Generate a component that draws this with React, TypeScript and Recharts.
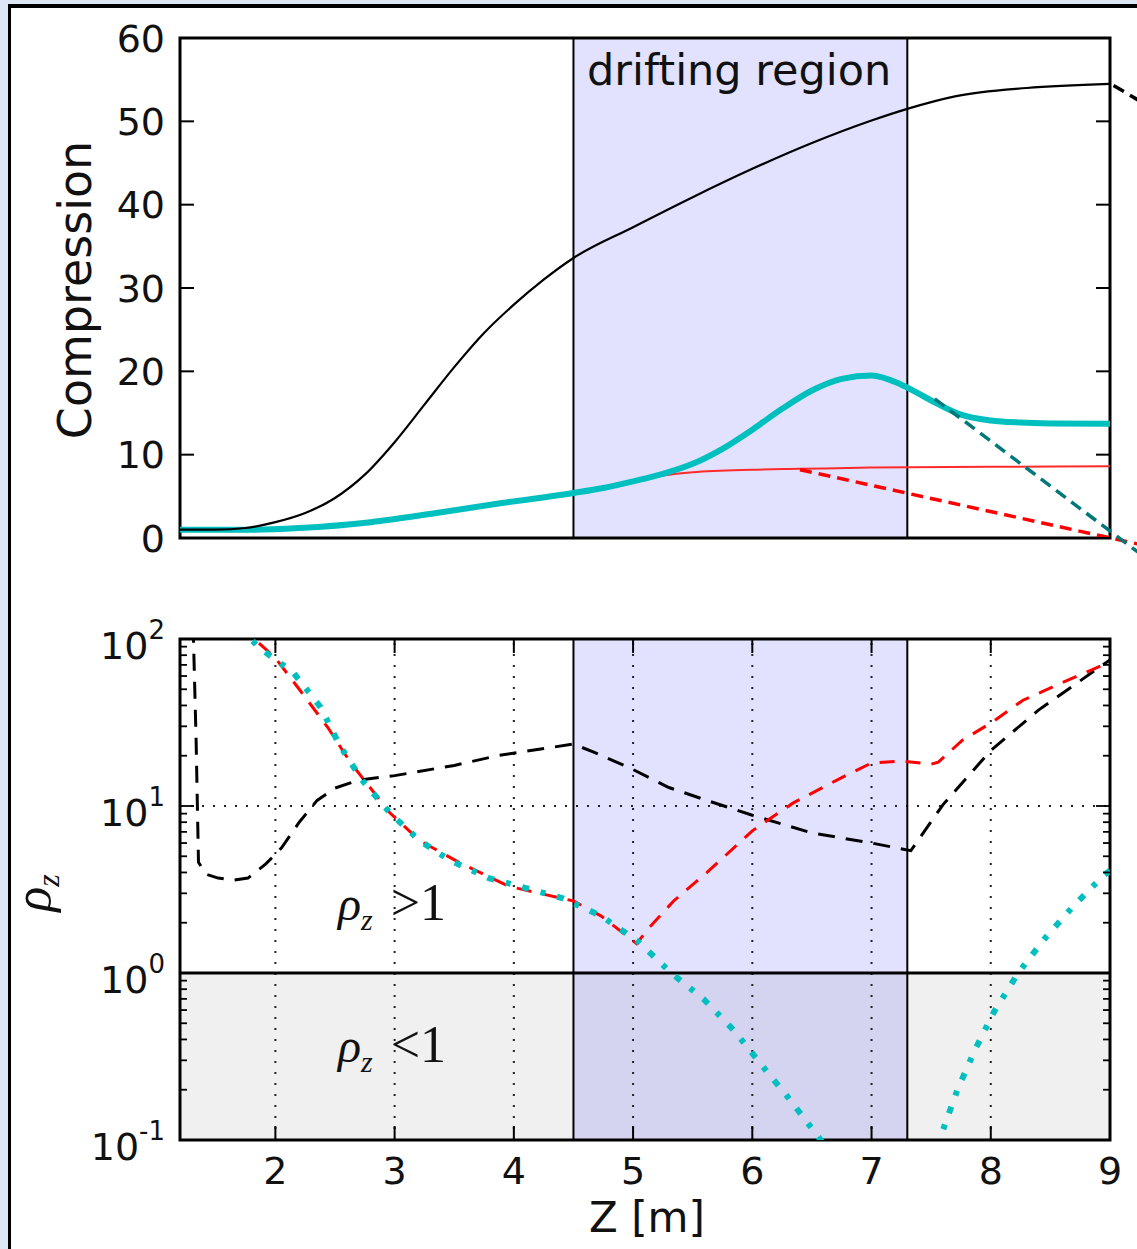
import React from 'react';
import { LineChart, Line, XAxis, YAxis, ReferenceArea, ReferenceLine } from 'recharts';

// top panel: compression along the line
const totalZ = [1.2, 1.5, 1.75, 2.0, 2.25, 2.5, 2.75, 3.0, 3.25, 3.5, 3.75, 4.0, 4.25, 4.5, 5.0, 5.5, 6.0, 6.5, 7.0, 7.3, 7.7, 8.3, 9.0];
const totalC = [1.0, 1.0, 1.2, 1.9, 3.0, 4.8, 7.6, 11.5, 16.0, 20.5, 24.6, 28.0, 31.0, 33.6, 37.3, 40.9, 44.3, 47.4, 50.1, 51.5, 53.0, 54.0, 54.5];

const cyanZ = [1.2, 1.8, 2.2, 2.8, 3.35, 3.9, 4.5, 4.75, 5.0, 5.25, 5.5, 5.75, 6.0, 6.25, 6.5, 6.75, 7.0, 7.25, 7.5, 7.75, 8.0, 8.25, 8.5, 9.0];
const cyanC = [1.0, 1.0, 1.2, 1.9, 3.0, 4.2, 5.4, 6.0, 6.8, 7.7, 8.9, 10.7, 13.0, 15.5, 17.7, 19.1, 19.5, 18.4, 16.5, 14.8, 14.1, 13.85, 13.75, 13.7];

const redZ = [1.2, 1.8, 2.8, 3.9, 4.5, 5.0, 5.25, 5.5, 6.0, 6.4, 7.0, 8.0, 9.0];
const redC = [1.0, 1.0, 1.9, 4.2, 5.4, 6.8, 7.5, 7.9, 8.2, 8.3, 8.45, 8.55, 8.6];

// bottom panel: rho_z (log)
const rhoBlackZ = [1.31, 1.335, 1.355, 1.42, 1.52, 1.65, 1.77, 1.92, 2.05, 2.2, 2.35, 2.5, 2.7, 3.0, 3.5, 3.86, 4.5, 4.67, 4.98, 5.3, 5.62, 6.0, 6.5, 7.0, 7.33, 7.6, 8.0, 8.4, 9.0];
const rhoBlack = [120, 25, 4.6, 3.9, 3.7, 3.6, 3.7, 4.5, 5.6, 8.0, 10.8, 12.8, 14.3, 15.2, 17.5, 20, 23.5, 21, 16.8, 12.9, 10.8, 8.8, 6.9, 6.0, 5.4, 10.2, 21.5, 37.5, 75];

const rhoRedZ = [1.7, 2.0, 2.2, 2.44, 2.63, 2.96, 3.21, 3.54, 3.96, 4.5, 4.73, 5.03, 5.13, 5.34, 5.62, 6.0, 6.34, 6.75, 7.0, 7.25, 7.5, 7.56, 7.76, 8.01, 8.27, 8.58, 9.0];
const rhoRed = [120, 77, 50, 29.5, 18.2, 9.1, 6.2, 4.6, 3.3, 2.7, 2.2, 1.5, 1.85, 2.7, 4.0, 7.1, 10.4, 14.8, 18.1, 18.6, 17.8, 18.3, 24.7, 31.7, 43, 54, 73];

const rhoCyanZ = [1.7, 1.86, 2.15, 2.38, 2.54, 2.73, 2.96, 3.21, 3.47, 3.79, 4.12, 4.41, 4.73, 5.04, 5.32, 5.59, 5.85, 6.08, 6.3, 6.53, 6.62, 7.0, 7.56, 7.59, 7.72, 7.87, 8.03, 8.23, 8.45, 8.69, 8.94, 9.0];
const rhoCyan = [118, 89, 63, 39, 23, 14.2, 9.1, 6.2, 4.7, 3.7, 3.2, 2.8, 2.2, 1.55, 1.0, 0.7, 0.45, 0.28, 0.18, 0.11, 0.09, null, 0.09, 0.11, 0.2, 0.35, 0.59, 1.0, 1.6, 2.5, 3.8, 4.1];

const compTicks = [0, 10, 20, 30, 40, 50, 60];
const zTicks = [2, 3, 4, 5, 6, 7, 8, 9];
const gridZ = [2, 3, 4, 5, 6, 7, 8];
const decades = [0.1, 1, 10, 100];
const logTicks = [
  0.1, 0.2, 0.3, 0.4, 0.5, 0.6, 0.7, 0.8, 0.9,
  1, 2, 3, 4, 5, 6, 7, 8, 9,
  10, 20, 30, 40, 50, 60, 70, 80, 90, 100,
];
const drift = [4.5, 7.3];

const toRows = (xs: number[], ys: (number | null)[]) => xs.map((x, i) => ({ x, y: ys[i] }));

const topTotal = toRows(totalZ, totalC);
const topCyan = toRows(cyanZ, cyanC);
const topRed = toRows(redZ, redC);
const botBlack = toRows(rhoBlackZ, rhoBlack);
const botRed = toRows(rhoRedZ, rhoRed);
const botCyan = toRows(rhoCyanZ, rhoCyan);

const PLOT_W = 930;
const BOT_PLOT_H = 501;
const Y_GAP = 13;
const X_GAP = 10;
const MAJOR = 14;
const MINOR = 7;
const SANS = 'DejaVu Sans';
const SERIF = 'Liberation Serif';

function CompTick(props: any) {
  const { x, y, payload } = props;
  const left = x + Y_GAP;
  const right = left + PLOT_W;
  return (
    <g>
      <line x1={left} x2={left + MAJOR} y1={y} y2={y} stroke="#000" strokeWidth={2} />
      <line x1={right} x2={right - MAJOR} y1={y} y2={y} stroke="#000" strokeWidth={2} />
      <text x={x - 2} y={y} dy="0.36em" textAnchor="end" fontSize={38} fontFamily={SANS} fill="#111">
        {payload.value}
      </text>
    </g>
  );
}

function LogTick(props: any) {
  const { x, y, payload } = props;
  const v = payload.value;
  const major = decades.includes(v);
  const len = major ? MAJOR : MINOR;
  const left = x + Y_GAP;
  const right = left + PLOT_W;
  return (
    <g>
      <line x1={left} x2={left + len} y1={y} y2={y} stroke="#000" strokeWidth={1.8} />
      <line x1={right} x2={right - len} y1={y} y2={y} stroke="#000" strokeWidth={1.8} />
      {major && (
        <text x={x - 2} y={y} dy={20} textAnchor="end" fontSize={38} fontFamily={SANS} fill="#111">
          <tspan>10</tspan>
          <tspan dy={-20} fontSize={26}>{Math.round(Math.log10(v))}</tspan>
        </text>
      )}
    </g>
  );
}

function ZTick(props: any) {
  const { x, y, payload } = props;
  const bottom = y - X_GAP;
  const top = bottom - BOT_PLOT_H;
  return (
    <g>
      <line x1={x} x2={x} y1={bottom} y2={bottom - MAJOR} stroke="#000" strokeWidth={2} />
      <line x1={x} x2={x} y1={top} y2={top + MAJOR} stroke="#000" strokeWidth={2} />
      <text x={x} y={bottom + 44} textAnchor="middle" fontSize={38} fontFamily={SANS} fill="#111">
        {payload.value}
      </text>
    </g>
  );
}

export default function App() {
  return (
    <div style={{ position: 'absolute', left: 0, top: 0, width: 1137, height: 1249, background: '#dde8f4', overflow: 'hidden' }}>
      <div
        style={{
          position: 'absolute',
          left: 8,
          top: 4,
          right: -10,
          bottom: -10,
          background: '#fff',
          borderLeft: '3px solid #000',
          borderTop: '4px solid #000',
        }}
      />

      <div style={{ position: 'absolute', left: 0, top: 0 }}>
        <LineChart width={1137} height={580} margin={{ top: 38, right: 27, left: 0, bottom: 42 }}>
          <XAxis type="number" dataKey="x" domain={[1.2, 9]} allowDataOverflow hide />
          <YAxis
            type="number"
            domain={[0, 60]}
            ticks={compTicks}
            interval={0}
            width={180}
            allowDataOverflow
            axisLine={false}
            tickLine={false}
            tickSize={0}
            tickMargin={Y_GAP}
            tick={<CompTick />}
          />
          <ReferenceArea x1={drift[0]} x2={drift[1]} y1={0} y2={60} fill="#0000ff" fillOpacity={0.115} stroke="none" />
          {drift.map((z) => (
            <ReferenceLine key={z} x={z} stroke="#000" strokeWidth={2} />
          ))}
          <Line data={topRed} dataKey="y" type="monotone" stroke="#ff2a2a" strokeWidth={2} dot={false} activeDot={false} isAnimationActive={false} />
          <Line data={topCyan} dataKey="y" type="monotone" stroke="#00bfbf" strokeWidth={6} dot={false} activeDot={false} isAnimationActive={false} />
          <Line data={topTotal} dataKey="y" type="monotone" stroke="#000" strokeWidth={2.2} dot={false} activeDot={false} isAnimationActive={false} />
          <ReferenceLine segment={[{ x: 9.03, y: 54.3 }, { x: 9.42, y: 51.0 }]} ifOverflow="visible" stroke="#000" strokeWidth={3.5} strokeDasharray="12 7" />
          <ReferenceLine segment={[{ x: 6.4, y: 8.2 }, { x: 9.42, y: -1.3 }]} ifOverflow="visible" stroke="#ff0000" strokeWidth={3.5} strokeDasharray="12 7" />
          <ReferenceLine segment={[{ x: 7.53, y: 16.7 }, { x: 9.42, y: -3.7 }]} ifOverflow="visible" stroke="#007878" strokeWidth={3.5} strokeDasharray="12 7" />
          <ReferenceArea x1={1.2} x2={9} y1={0} y2={60} fill="none" stroke="#000" strokeWidth={3} ifOverflow="visible" />
        </LineChart>
      </div>

      <div style={{ position: 'absolute', left: 0, top: 600 }}>
        <LineChart width={1137} height={649} margin={{ top: 39, right: 27, left: 0, bottom: 0 }}>
          <XAxis
            type="number"
            dataKey="x"
            domain={[1.2, 9]}
            ticks={zTicks}
            interval={0}
            height={109}
            allowDataOverflow
            axisLine={false}
            tickLine={false}
            tickSize={0}
            tickMargin={X_GAP}
            tick={<ZTick />}
          />
          <YAxis
            type="number"
            scale="log"
            domain={[0.1, 100]}
            ticks={logTicks}
            interval={0}
            width={180}
            allowDataOverflow
            axisLine={false}
            tickLine={false}
            tickSize={0}
            tickMargin={Y_GAP}
            tick={<LogTick />}
          />
          <ReferenceArea x1={1.2} x2={9} y1={0.1} y2={1} fill="#000" fillOpacity={0.06} stroke="none" />
          <ReferenceArea x1={drift[0]} x2={drift[1]} y1={0.1} y2={100} fill="#0000ff" fillOpacity={0.115} stroke="none" />
          {gridZ.map((z) => (
            <ReferenceLine key={`g${z}`} x={z} stroke="#222" strokeWidth={2} strokeDasharray="2 9" />
          ))}
          <ReferenceLine y={10} stroke="#222" strokeWidth={2} strokeDasharray="2 9" />
          <ReferenceLine y={1} stroke="#000" strokeWidth={3} />
          {drift.map((z) => (
            <ReferenceLine key={z} x={z} stroke="#000" strokeWidth={2} />
          ))}
          <Line data={botBlack} dataKey="y" type="linear" stroke="#000" strokeWidth={3} strokeDasharray="17 11" dot={false} activeDot={false} isAnimationActive={false} />
          <Line data={botRed} dataKey="y" type="linear" stroke="#ff0000" strokeWidth={3} strokeDasharray="15 11" dot={false} activeDot={false} isAnimationActive={false} />
          <Line data={botCyan} dataKey="y" type="linear" stroke="#00bfbf" strokeWidth={6} strokeDasharray="7 12 5 12" dot={false} activeDot={false} isAnimationActive={false} />
          <ReferenceArea x1={1.2} x2={9} y1={0.1} y2={100} fill="none" stroke="#000" strokeWidth={3} ifOverflow="visible" />
        </LineChart>
      </div>

      <svg width={1137} height={1249} style={{ position: 'absolute', left: 0, top: 0, pointerEvents: 'none' }}>
        <text x={587} y={85} fontSize={43} fontFamily={SANS} fill="#111">
          drifting region
        </text>
        <text transform="translate(91 290) rotate(-90)" textAnchor="middle" fontSize={46} fontFamily={SANS} fill="#111">
          Compression
        </text>
        <text x={647} y={1232} textAnchor="middle" fontSize={42} fontFamily={SANS} fill="#111">
          Z [m]
        </text>
        <text transform="translate(50 893) rotate(-90)" textAnchor="middle" fontSize={52} fontFamily={SERIF} fill="#111">
          <tspan fontStyle="italic">ρ</tspan>
          <tspan fontStyle="italic" fontSize={32} dy={9}>z</tspan>
        </text>
        <text x={338} y={920} fontSize={48} fontFamily={SERIF} fill="#111">
          <tspan fontStyle="italic">ρ</tspan>
          <tspan fontStyle="italic" fontSize={30} dy={10}>z</tspan>
          <tspan dy={-10} dx={18} fontSize={52}>&gt;1</tspan>
        </text>
        <text x={338} y={1062} fontSize={48} fontFamily={SERIF} fill="#111">
          <tspan fontStyle="italic">ρ</tspan>
          <tspan fontStyle="italic" fontSize={30} dy={10}>z</tspan>
          <tspan dy={-10} dx={18} fontSize={52}>&lt;1</tspan>
        </text>
      </svg>
    </div>
  );
}
